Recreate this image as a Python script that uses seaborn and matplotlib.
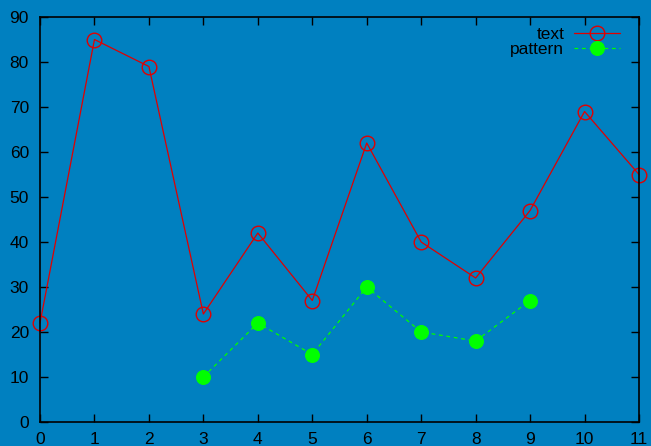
import numpy as np
import pandas as pd
import matplotlib
matplotlib.use('Agg')
import matplotlib.pyplot as plt
import seaborn as sns

# data
text_x = list(range(12))
text_y = [22, 85, 79, 24, 42, 27, 62, 40, 32, 47, 69, 55]
pattern_x = [3, 4, 5, 6, 7, 8, 9]
pattern_y = [10, 22, 15, 30, 20, 18, 27]

sns.set_style('ticks')
plt.rcParams['font.family'] = ['Liberation Sans', 'DejaVu Sans']
plt.rcParams['font.size'] = 12.5

bg = '#0080c0'
fig = plt.figure(figsize=(6.51, 4.46), dpi=100, facecolor=bg)
ax = fig.add_axes([40 / 651, 24 / 446, 599 / 651, 405 / 446])
ax.set_facecolor(bg)

sns.lineplot(x=text_x, y=text_y, ax=ax, color='#e00000', lw=0.9,
             marker='o', markersize=10.5, markerfacecolor='none',
             markeredgecolor='#e00000', markeredgewidth=1, label='text',
             clip_on=False)
sns.lineplot(x=pattern_x, y=pattern_y, ax=ax, color='#00ff00', lw=0.9,
             linestyle=(0, (3, 3)), marker='o', markersize=10,
             markeredgecolor='#00ff00', label='pattern', clip_on=False)

ax.set_xlim(0, 11)
ax.set_ylim(0, 90)
ax.set_xticks(range(12))
ax.set_yticks(range(0, 91, 10))
ax.tick_params(direction='in', length=6, width=1, color='black',
               labelcolor='black', top=True, right=True, labelsize=12.5)
ax.tick_params(axis='x', pad=7)
ax.tick_params(axis='y', pad=8)
for s in ax.spines.values():
    s.set_color('black')
    s.set_linewidth(1.2)
    s.set_visible(True)
ax.set_xlabel('')
ax.set_ylabel('')

leg = ax.legend(loc='upper right', bbox_to_anchor=(1, 1 + 9 / 405),
                frameon=False, markerfirst=False,
                handlelength=2.65, borderaxespad=0.6, labelspacing=0.0,
                fontsize=12.5, handletextpad=0.55, borderpad=0.5,
                labelcolor='black')
for t in leg.get_texts():
    t.set_ha('right')

fig.savefig('out.png', dpi=100, facecolor=bg)
